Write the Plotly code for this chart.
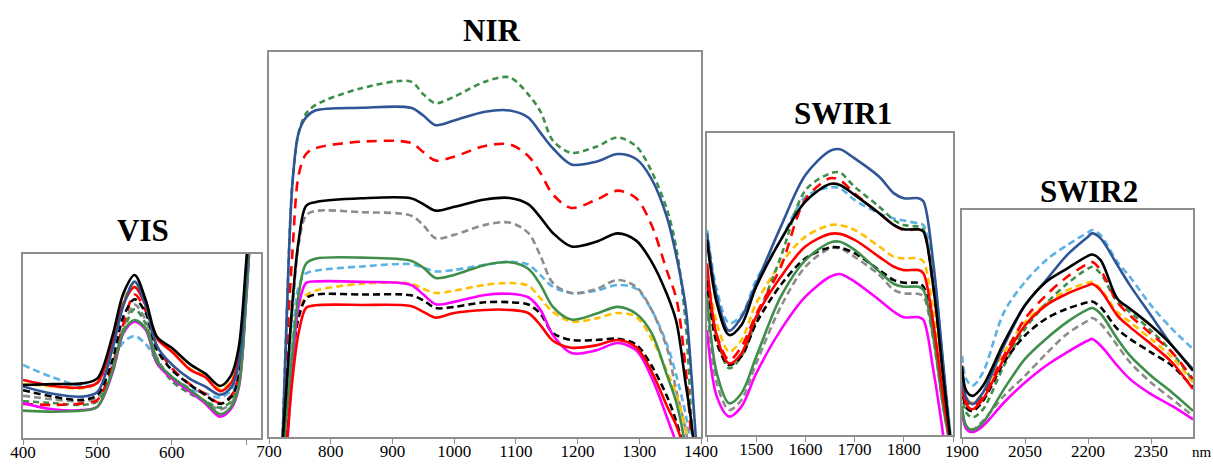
import plotly.graph_objects as go

W, H = 1213, 465

# ---------------- data (relative reflectance per panel, 0..1 of panel height) ----------------
VIS_NM = [400, 440, 480, 500, 520, 535, 550, 565, 580, 600, 625, 645, 665, 680, 690, 700, 712]
VIS_LIGHTBLUE_D = [0.397, 0.33, 0.283, 0.30, 0.42, 0.52, 0.554, 0.51, 0.42, 0.333, 0.27, 0.243, 0.22, 0.26, 0.38, 0.85, 1.6]
VIS_GRAY_D = [0.23, 0.21, 0.20, 0.22, 0.38, 0.60, 0.725, 0.64, 0.44, 0.32, 0.25, 0.20, 0.155, 0.19, 0.30, 0.78, 1.6]
VIS_YELLOW_D = [0.293, 0.28, 0.27, 0.30, 0.53, 0.75, 0.84, 0.74, 0.55, 0.475, 0.375, 0.335, 0.265, 0.31, 0.44, 0.92, 1.6]
VIS_GREEN_D = [0.20, 0.19, 0.18, 0.20, 0.36, 0.58, 0.70, 0.62, 0.43, 0.31, 0.24, 0.20, 0.165, 0.20, 0.30, 0.78, 1.6]
VIS_RED_D = [0.185, 0.18, 0.188, 0.207, 0.39, 0.62, 0.78, 0.69, 0.50, 0.38, 0.29, 0.24, 0.19, 0.23, 0.34, 0.80, 1.6]
VIS_BLACK_D = [0.26, 0.225, 0.207, 0.234, 0.42, 0.66, 0.754, 0.68, 0.48, 0.37, 0.288, 0.234, 0.185, 0.225, 0.33, 0.80, 1.6]
VIS_MAGENTA = [0.19, 0.156, 0.152, 0.17, 0.35, 0.57, 0.632, 0.587, 0.406, 0.324, 0.25, 0.188, 0.116, 0.16, 0.27, 0.75, 1.6]
VIS_GREEN = [0.149, 0.143, 0.149, 0.17, 0.36, 0.578, 0.641, 0.596, 0.415, 0.333, 0.26, 0.197, 0.13, 0.17, 0.28, 0.75, 1.6]
VIS_RED = [0.315, 0.283, 0.275, 0.30, 0.52, 0.73, 0.82, 0.72, 0.54, 0.47, 0.37, 0.33, 0.255, 0.30, 0.43, 0.90, 1.6]
VIS_BLUE = [0.28, 0.24, 0.225, 0.25, 0.48, 0.72, 0.85, 0.72, 0.50, 0.40, 0.32, 0.28, 0.235, 0.275, 0.40, 0.88, 1.6]
VIS_BLACK = [0.288, 0.293, 0.297, 0.324, 0.551, 0.786, 0.886, 0.75, 0.55, 0.49, 0.40, 0.35, 0.283, 0.342, 0.49, 0.95, 1.6]

NIR_NM = [718, 728, 738, 748, 760, 775, 850, 930, 950, 970, 1000, 1050, 1090, 1120, 1140, 1160, 1190, 1230, 1265, 1295, 1320, 1345, 1360, 1375, 1385, 1398]
NIR_LIGHTBLUE_D = [-0.2, 0.0, 0.25, 0.39, 0.425, 0.432, 0.443, 0.449, 0.44, 0.43, 0.434, 0.447, 0.455, 0.448, 0.42, 0.39, 0.374, 0.38, 0.395, 0.385, 0.33, 0.24, 0.16, 0.06, -0.04, -0.3]
NIR_GRAY_D = [-0.1, 0.1, 0.33, 0.50, 0.575, 0.587, 0.584, 0.575, 0.55, 0.516, 0.525, 0.551, 0.557, 0.53, 0.47, 0.40, 0.374, 0.384, 0.408, 0.39, 0.33, 0.23, 0.12, 0.02, -0.1, -0.3]
NIR_YELLOW_D = [-0.2, 0.0, 0.20, 0.32, 0.368, 0.38, 0.398, 0.398, 0.385, 0.374, 0.38, 0.395, 0.40, 0.393, 0.36, 0.325, 0.30, 0.308, 0.322, 0.312, 0.255, 0.17, 0.11, 0.02, -0.1, -0.3]
NIR_GREEN_D = [-0.2, 0.28, 0.66, 0.79, 0.84, 0.862, 0.906, 0.923, 0.89, 0.867, 0.884, 0.923, 0.934, 0.89, 0.845, 0.77, 0.738, 0.754, 0.778, 0.755, 0.69, 0.59, 0.49, 0.30, 0.02, -0.4]
NIR_RED_D = [-0.2, 0.20, 0.48, 0.68, 0.735, 0.75, 0.767, 0.764, 0.74, 0.718, 0.728, 0.756, 0.76, 0.73, 0.685, 0.63, 0.595, 0.616, 0.64, 0.62, 0.55, 0.43, 0.36, 0.18, -0.02, -0.3]
NIR_BLACK_D = [-0.2, 0.02, 0.20, 0.31, 0.36, 0.37, 0.37, 0.368, 0.355, 0.335, 0.338, 0.35, 0.35, 0.344, 0.32, 0.27, 0.252, 0.252, 0.255, 0.24, 0.185, 0.105, 0.04, -0.05, -0.2, -0.4]
NIR_MAGENTA = [-0.2, -0.05, 0.18, 0.34, 0.40, 0.404, 0.403, 0.395, 0.37, 0.345, 0.351, 0.369, 0.372, 0.363, 0.33, 0.265, 0.218, 0.225, 0.244, 0.225, 0.155, 0.05, -0.02, -0.2, -0.3, -0.5]
NIR_GREEN = [-0.2, 0.05, 0.22, 0.37, 0.45, 0.463, 0.466, 0.458, 0.44, 0.413, 0.421, 0.447, 0.454, 0.437, 0.395, 0.338, 0.305, 0.32, 0.338, 0.32, 0.27, 0.16, 0.09, -0.03, -0.2, -0.4]
NIR_RED = [-0.2, -0.03, 0.15, 0.27, 0.335, 0.342, 0.343, 0.34, 0.325, 0.31, 0.322, 0.33, 0.33, 0.322, 0.29, 0.25, 0.232, 0.238, 0.252, 0.233, 0.17, 0.08, 0.03, -0.05, -0.2, -0.4]
NIR_BLUE = [-0.2, 0.28, 0.66, 0.79, 0.83, 0.848, 0.855, 0.855, 0.835, 0.81, 0.822, 0.845, 0.848, 0.83, 0.79, 0.75, 0.708, 0.715, 0.735, 0.722, 0.67, 0.57, 0.47, 0.34, 0.15, -0.15]
NIR_BLACK = [-0.1, 0.12, 0.35, 0.51, 0.60, 0.61, 0.62, 0.62, 0.605, 0.588, 0.598, 0.617, 0.621, 0.605, 0.57, 0.53, 0.495, 0.507, 0.529, 0.51, 0.455, 0.37, 0.30, 0.14, 0.03, -0.2]

SWIR1_NM = [1400, 1420, 1445, 1470, 1500, 1550, 1600, 1650, 1670, 1700, 1750, 1780, 1800, 1830, 1840, 1860, 1880, 1895]
SWIR1_LIGHTBLUE_D = [0.679, 0.48, 0.37, 0.397, 0.513, 0.646, 0.789, 0.82, 0.817, 0.778, 0.734, 0.717, 0.71, 0.70, 0.695, 0.546, 0.237, 0.0]
SWIR1_GRAY_D = [0.436, 0.171, 0.083, 0.116, 0.237, 0.425, 0.557, 0.618, 0.618, 0.59, 0.53, 0.48, 0.469, 0.467, 0.458, 0.315, 0.094, -0.04]
SWIR1_YELLOW_D = [0.546, 0.37, 0.276, 0.315, 0.436, 0.568, 0.657, 0.695, 0.695, 0.679, 0.624, 0.59, 0.585, 0.585, 0.574, 0.414, 0.149, -0.02]
SWIR1_GREEN_D = [0.48, 0.326, 0.221, 0.26, 0.38, 0.59, 0.81, 0.866, 0.869, 0.822, 0.756, 0.712, 0.695, 0.69, 0.68, 0.503, 0.215, -0.02]
SWIR1_RED_D = [0.50, 0.33, 0.248, 0.292, 0.40, 0.557, 0.78, 0.85, 0.844, 0.80, 0.734, 0.695, 0.679, 0.681, 0.673, 0.49, 0.204, -0.02]
SWIR1_BLACK_D = [0.513, 0.304, 0.232, 0.26, 0.37, 0.497, 0.585, 0.621, 0.621, 0.602, 0.546, 0.513, 0.504, 0.504, 0.491, 0.348, 0.116, -0.03]
SWIR1_MAGENTA = [0.348, 0.127, 0.061, 0.094, 0.204, 0.348, 0.458, 0.524, 0.533, 0.508, 0.447, 0.408, 0.39, 0.39, 0.381, 0.215, 0.0, -0.2]
SWIR1_GREEN = [0.458, 0.204, 0.105, 0.138, 0.259, 0.458, 0.579, 0.637, 0.64, 0.613, 0.541, 0.50, 0.491, 0.491, 0.48, 0.326, 0.094, -0.04]
SWIR1_RED = [0.568, 0.326, 0.237, 0.27, 0.392, 0.524, 0.624, 0.666, 0.666, 0.646, 0.59, 0.557, 0.546, 0.546, 0.535, 0.37, 0.127, -0.03]
SWIR1_BLUE = [0.668, 0.458, 0.345, 0.39, 0.50, 0.69, 0.861, 0.941, 0.946, 0.916, 0.855, 0.80, 0.784, 0.784, 0.773, 0.568, 0.237, -0.02]
SWIR1_BLACK = [0.646, 0.436, 0.331, 0.364, 0.491, 0.646, 0.773, 0.831, 0.828, 0.795, 0.734, 0.695, 0.681, 0.681, 0.673, 0.49, 0.193, -0.02]

SWIR2_NM = [1900, 1910, 1925, 1950, 2000, 2050, 2100, 2150, 2200, 2210, 2230, 2270, 2300, 2350, 2400, 2450]
SWIR2_LIGHTBLUE_D = [0.358, 0.255, 0.226, 0.285, 0.55, 0.683, 0.779, 0.845, 0.901, 0.912, 0.889, 0.771, 0.705, 0.58, 0.476, 0.388]
SWIR2_GRAY_D = [0.12, 0.05, 0.034, 0.071, 0.181, 0.27, 0.366, 0.454, 0.513, 0.524, 0.499, 0.403, 0.329, 0.24, 0.167, 0.093]
SWIR2_YELLOW_D = [0.255, 0.167, 0.152, 0.196, 0.373, 0.506, 0.587, 0.646, 0.68, 0.683, 0.653, 0.55, 0.506, 0.432, 0.351, 0.24]
SWIR2_GREEN_D = [0.196, 0.108, 0.086, 0.122, 0.314, 0.476, 0.587, 0.675, 0.742, 0.749, 0.72, 0.594, 0.55, 0.469, 0.373, 0.248]
SWIR2_RED_D = [0.255, 0.16, 0.137, 0.181, 0.358, 0.521, 0.624, 0.705, 0.764, 0.771, 0.735, 0.594, 0.535, 0.454, 0.373, 0.255]
SWIR2_BLACK_D = [0.226, 0.13, 0.115, 0.159, 0.329, 0.447, 0.521, 0.565, 0.594, 0.597, 0.572, 0.476, 0.432, 0.373, 0.314, 0.218]
SWIR2_MAGENTA = [0.108, 0.037, 0.022, 0.049, 0.152, 0.24, 0.314, 0.373, 0.425, 0.432, 0.403, 0.314, 0.255, 0.189, 0.137, 0.078]
SWIR2_GREEN = [0.137, 0.049, 0.031, 0.063, 0.211, 0.344, 0.432, 0.506, 0.562, 0.568, 0.543, 0.432, 0.358, 0.27, 0.196, 0.115]
SWIR2_RED = [0.24, 0.145, 0.122, 0.167, 0.344, 0.491, 0.58, 0.631, 0.668, 0.674, 0.646, 0.535, 0.484, 0.41, 0.329, 0.211]
SWIR2_BLUE = [0.285, 0.174, 0.145, 0.196, 0.403, 0.58, 0.69, 0.801, 0.882, 0.897, 0.875, 0.757, 0.668, 0.535, 0.403, 0.299]
SWIR2_BLACK = [0.314, 0.204, 0.181, 0.226, 0.417, 0.58, 0.683, 0.742, 0.798, 0.804, 0.779, 0.609, 0.565, 0.491, 0.403, 0.292]

PANEL_TITLES = ["VIS", "NIR", "SWIR1", "SWIR2"]
VIS_TICKS = [400, 500, 600, 700]
VIS_TICKTEXT = ["400", "500", "600", ""]
NIR_TICKS = [700, 800, 900, 1000, 1100, 1200, 1300, 1400]
SWIR1_TICKS = [1400, 1500, 1600, 1700, 1800, 1900]
SWIR1_TICKTEXT = ["", "1500", "1600", "1700", "1800", ""]
SWIR2_TICKS = [1900, 2050, 2200, 2350]

# ---------------- styles ----------------
GREEN = "#3F8F4B"
STYLES = [  # (color, dash)
    ("#5DB2E4", "7px,4px"),   # light blue dashed
    ("#8C8C8C", "7px,4px"),   # gray dashed
    ("#FFC000", "7px,4px"),   # yellow dashed
    (GREEN, "6px,4px"),       # green dashed
    ("#FF0000", "10px,7px"),  # red dashed
    ("#000000", "7px,4px"),   # black dashed
    ("#FF00FF", "solid"),     # magenta
    (GREEN, "solid"),         # green
    ("#FF0000", "solid"),     # red
    ("#2F5597", "solid"),     # blue
    ("#000000", "solid"),     # black
]

panels = [
    (VIS_NM, [VIS_LIGHTBLUE_D, VIS_GRAY_D, VIS_YELLOW_D, VIS_GREEN_D, VIS_RED_D, VIS_BLACK_D,
              VIS_MAGENTA, VIS_GREEN, VIS_RED, VIS_BLUE, VIS_BLACK]),
    (NIR_NM, [NIR_LIGHTBLUE_D, NIR_GRAY_D, NIR_YELLOW_D, NIR_GREEN_D, NIR_RED_D, NIR_BLACK_D,
              NIR_MAGENTA, NIR_GREEN, NIR_RED, NIR_BLUE, NIR_BLACK]),
    (SWIR1_NM, [SWIR1_LIGHTBLUE_D, SWIR1_GRAY_D, SWIR1_YELLOW_D, SWIR1_GREEN_D, SWIR1_RED_D, SWIR1_BLACK_D,
                SWIR1_MAGENTA, SWIR1_GREEN, SWIR1_RED, SWIR1_BLUE, SWIR1_BLACK]),
    (SWIR2_NM, [SWIR2_LIGHTBLUE_D, SWIR2_GRAY_D, SWIR2_YELLOW_D, SWIR2_GREEN_D, SWIR2_RED_D, SWIR2_BLACK_D,
                SWIR2_MAGENTA, SWIR2_GREEN, SWIR2_RED, SWIR2_BLUE, SWIR2_BLACK]),
]

fig = go.Figure()
for i, (xs, series) in enumerate(panels):
    suffix = "" if i == 0 else str(i + 1)
    for ys, (color, dash) in zip(series, STYLES):
        fig.add_trace(go.Scatter(
            x=xs, y=ys, mode="lines", xaxis="x" + suffix, yaxis="y" + suffix,
            line=dict(color=color, width=2.6, dash=dash, shape="spline", smoothing=0.9),
            showlegend=False, hoverinfo="skip"))

# panel boxes in pixels: (left, right, top, bottom)
BOXES = [(23, 261, 254, 438), (269, 701, 52, 437), (707, 953, 133, 435), (962, 1193, 210, 437)]
XRANGES = [(400, 720), (700, 1400), (1400, 1900), (1900, 2450)]
TICKS = [(VIS_TICKS, VIS_TICKTEXT), (NIR_TICKS, [str(t) for t in NIR_TICKS]),
         (SWIR1_TICKS, SWIR1_TICKTEXT), (SWIR2_TICKS, [str(t) for t in SWIR2_TICKS])]
TITLE_POS = [(143, 230), (491, 31), (843, 114), (1089, 191)]

AXCOL = "#8E8E8E"
layout = dict(width=W, height=H, margin=dict(l=0, r=0, t=0, b=0, pad=0), autosize=False,
              paper_bgcolor="white", plot_bgcolor="white", showlegend=False,
              font=dict(family="Liberation Serif, Times New Roman, serif", color="black"))
annotations = []
for i, ((l, r, t, b), xr, (tv, tt), (tx, ty), title) in enumerate(zip(BOXES, XRANGES, TICKS, TITLE_POS, PANEL_TITLES)):
    suffix = "" if i == 0 else str(i + 1)
    layout["xaxis" + suffix] = dict(
        domain=[l / W, r / W], range=list(xr), anchor="y" + suffix,
        tickmode="array", tickvals=tv, ticktext=tt, ticks="outside", ticklen=5,
        ticklabelstandoff=-7,
        tickcolor=AXCOL, tickwidth=1.3, showline=True, linecolor=AXCOL, linewidth=1.5,
        mirror=True, showgrid=False, zeroline=False, automargin=False,
        tickfont=dict(family="Liberation Serif", size=17, color="black"))
    layout["yaxis" + suffix] = dict(
        domain=[(H - b) / H, (H - t) / H], range=[0, 1], anchor="x" + suffix,
        showticklabels=False, ticks="", showline=True, linecolor=AXCOL, linewidth=1.5,
        mirror=True, showgrid=False, zeroline=False, automargin=False)
    annotations.append(dict(text="<b>%s</b>" % title, x=tx / W, y=1 - ty / H, xref="paper", yref="paper",
                            xanchor="center", yanchor="middle", showarrow=False,
                            font=dict(family="Liberation Serif", size=31, color="black")))
annotations.append(dict(text="nm", x=1202 / W, y=1 - 452 / H, xref="paper", yref="paper",
                        xanchor="center", yanchor="middle", showarrow=False,
                        font=dict(family="Liberation Serif", size=15, color="black")))
layout["annotations"] = annotations
fig.update_layout(**layout)

fig.write_html("out.html", config={"responsive": False, "displayModeBar": False},
               post_script="document.body.style.margin='0';document.body.style.overflow='hidden';")
